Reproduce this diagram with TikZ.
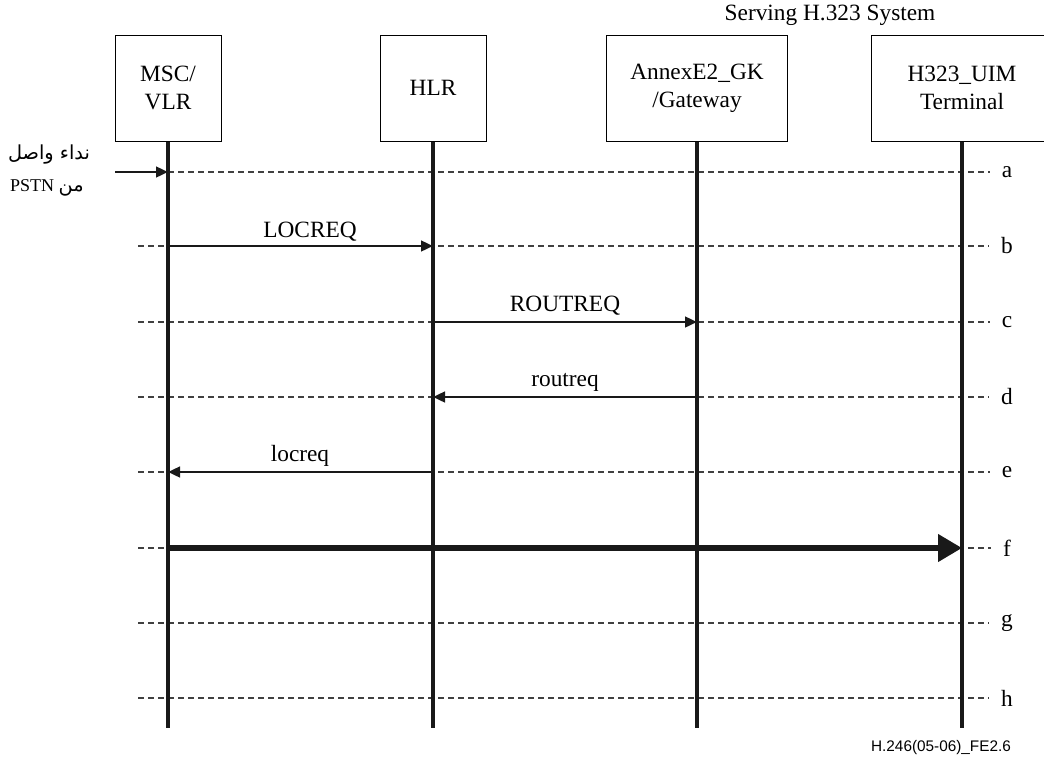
\documentclass[tikz,border=0pt]{standalone}
\usepackage{fontspec}
\setmainfont{Liberation Serif}
\newfontfamily\arabicfont[Script=Arabic]{DejaVu Sans}
\newfontfamily\sansf{Liberation Sans}
\TeXXeTstate=1
\usetikzlibrary{arrows.meta}
\begin{document}
\begin{tikzpicture}[x=0.75pt,y=-0.75pt,
  font=\fontsize{17.5}{21}\selectfont,
  entity/.style={draw, line width=0.75pt, minimum width=79.5pt, minimum height=79.5pt, align=center, inner sep=0pt, fill=white},
  wideentity/.style={entity, minimum width=136pt},
  life/.style={line width=2.4pt, color=black!90},
  guide/.style={line width=0.8pt, dash pattern=on 4.5pt off 3pt, color=black!75},
  msg/.style={line width=1.8pt, color=black!90, -{Triangle[length=9pt,width=8pt]}},
  bigmsg/.style={line width=4pt, color=black!90, -{Triangle[length=18pt,width=20pt]}},
  lbl/.style={inner sep=0pt},
  rowlbl/.style={inner sep=0pt, anchor=center},
]
\useasboundingbox (0,0) rectangle (1044,760);
\clip (0,0) rectangle (1044,760);

% title
\node[lbl] (sys) at (830,15) {Serving H.323 System};

% entities
\node[entity] (msc) at (168,88) {MSC/\\VLR};
\node[entity] (hlr) at (433,88) {HLR};
\node[wideentity] (gk) at (697,88) {AnnexE2\_GK\\/Gateway};
\node[wideentity] (ue) at (962,88) {H323\_UIM\\Terminal};

% row coordinates and labels
\foreach \n/\y in {a/172,b/246,c/322,d/397,e/472,f/548,g/623,h/698}{
  \coordinate (r\n) at (138,\y);
  \node[rowlbl] (l\n) at (1007,\y) {\n};
}
\foreach \n in {a,b,c,d,e,f,g,h}{
  \draw[guide] (r\n) -- ([xshift=-9pt]l\n.west);
}

% lifelines
\coordinate (mend) at (168,728);
\draw[life] (msc.south) -- (msc |- mend);
\draw[life] (hlr.south) -- (hlr |- mend);
\draw[life] (gk.south) -- (gk |- mend);
\draw[life] (ue.south) -- (ue |- mend);

% incoming call
\coordinate (ain) at (115,172);
\draw[msg] (ain) -- (msc |- ra);
\node[lbl, font=\arabicfont\fontsize{14.5}{17}\selectfont] (ar1) at (49,155) {\beginR نداء واصل\endR};
\node[lbl, font=\fontsize{13.5}{16}\selectfont] (ar2) at (47,188) {\beginR{\arabicfont\fontsize{14.5}{17}\selectfont من} \beginL PSTN\endL\endR};

% messages
\draw[msg] (msc |- rb) -- (hlr |- rb);
\node[lbl] (mb) at (310,232) {LOCREQ};
\draw[msg] (hlr |- rc) -- (gk |- rc);
\node[lbl] (mc) at (565,306) {ROUTREQ};
\draw[msg] (gk |- rd) -- (hlr |- rd);
\node[lbl] (md) at (565,382) {routreq};
\draw[msg] (hlr |- re) -- (msc |- re);
\node[lbl] (me) at (300,456) {locreq};
\draw[bigmsg] (msc |- rf) -- (ue |- rf);

% figure id
\node[lbl, font=\sansf\fontsize{11.5}{14}\selectfont] (fid) at (941,748) {H.246(05-06)\_FE2.6};
\end{tikzpicture}
\end{document}
